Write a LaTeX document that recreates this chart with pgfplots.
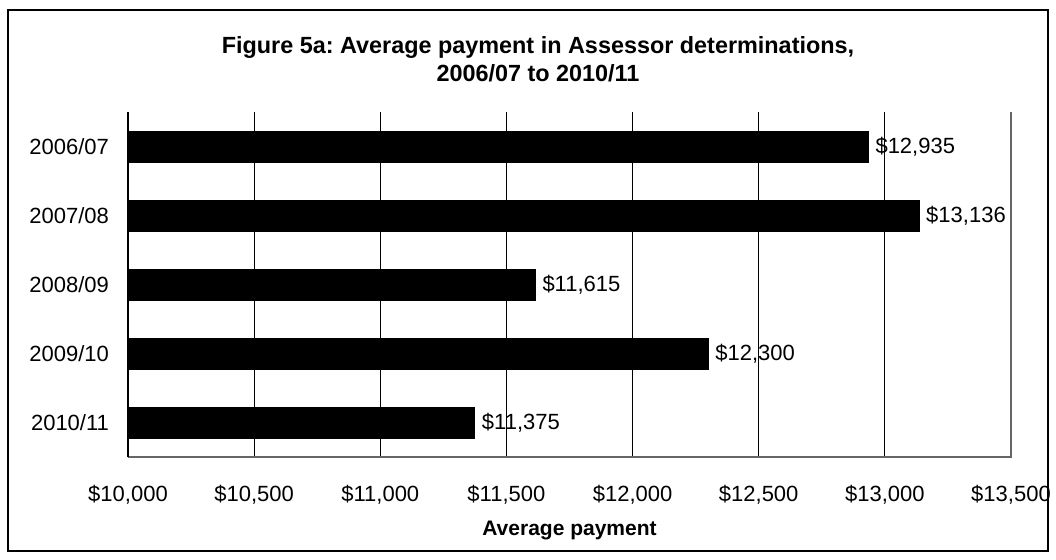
\documentclass[border=0pt]{standalone}
\usepackage{pgfplots}
\pgfplotsset{compat=1.18}
\usepackage{fontspec}
\setmainfont{Liberation Sans}
\frenchspacing
\begin{document}
\begin{tikzpicture}[x=1pt,y=1pt]
\useasboundingbox (0,0) rectangle (528,279.5);
\draw[black, line width=0.6pt] (4,4) rectangle (524,274.5);
\node[font=\fontsize{11.7}{14}\selectfont\bfseries, align=center] at (269,250)
  {Figure 5a: Average payment in Assessor determinations,\\2006/07 to 2010/11};
\begin{axis}[
  at={(64pt,51pt)}, anchor=south west,
  scale only axis, width=441.5pt, height=172.5pt,
  xbar, bar width=15.5pt, bar shift=0pt,
  xmin=10000, xmax=13500,
  ymin=-0.5, ymax=4.5, y dir=reverse,
  scaled x ticks=false,
  ytick={0,1,2,3,4},
  yticklabels={2006/07,2007/08,2008/09,2009/10,2010/11},
  xtick={10000,10500,11000,11500,12000,12500,13000,13500},
  xticklabels={{\$10,000},{\$10,500},{\$11,000},{\$11,500},{\$12,000},{\$12,500},{\$13,000},{\$13,500}},
  major tick length=0pt,
  xmajorgrids, major grid style={black, line width=0.5pt},
  axis line style={draw=none},
  tick label style={font=\fontsize{11}{13}\selectfont},
  every x tick label/.append style={anchor=center, yshift=-19pt},
  every y tick label/.append style={anchor=east, xshift=-6pt},
  nodes near coords={\$\pgfmathprintnumber[1000 sep={,}, assume math mode=true]{\pgfplotspointmeta}},
  point meta=x,
  every node near coord/.append style={font=\fontsize{11}{13}\selectfont, anchor=west},
  clip=false,
]
\addplot[fill=black, draw=black] coordinates {
  (12935,0) (13136,1) (11615,2) (12300,3) (11375,4)
};
\draw[black!60, line width=0.8pt] (rel axis cs:0,0) -- (rel axis cs:1,0) -- (rel axis cs:1,1);
\draw[black, line width=0.6pt] (rel axis cs:0,0) -- (rel axis cs:0,1);
\end{axis}
\node[font=\fontsize{10.5}{13}\selectfont\bfseries] at (284.75,14.5) {Average payment};
\end{tikzpicture}
\end{document}
